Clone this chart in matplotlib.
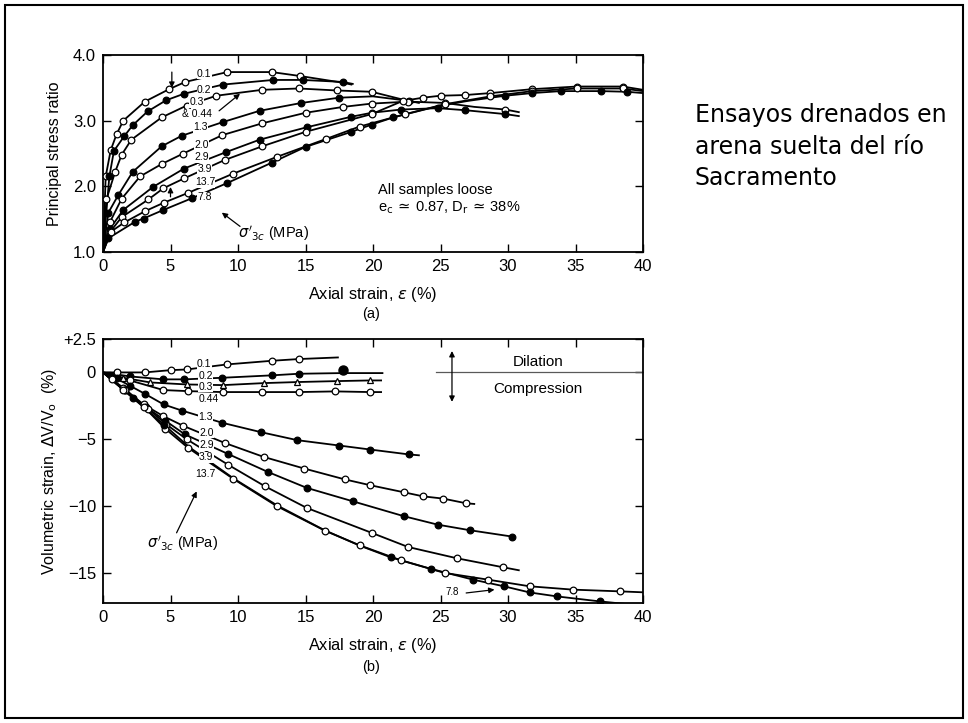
import numpy as np
import matplotlib
matplotlib.use("Agg")
import matplotlib.pyplot as plt
from matplotlib.patches import Rectangle

plt.rcParams['font.family'] = ['Liberation Sans', 'DejaVu Sans']
plt.rcParams['mathtext.fontset'] = 'dejavusans'

# ---- (a) principal stress ratio vs axial strain ----
t_eps_01 = [0, 0.2, 0.57, 1.0, 1.5, 3.1, 4.9, 6.1, 9.2, 12.5, 14.6, 17.7, 18.4]
t_r_01 = [1.0, 2.15, 2.55, 2.79, 3.0, 3.29, 3.48, 3.59, 3.74, 3.74, 3.68, 3.58, 3.55]
t_eps_02 = [0, 0.47, 0.81, 1.56, 2.2, 3.3, 4.67, 6.0, 8.9, 12.6, 14.8, 17.75, 18.5]
t_r_02 = [1.0, 2.15, 2.54, 2.76, 2.93, 3.14, 3.31, 3.41, 3.55, 3.62, 3.62, 3.59, 3.56]
t_eps_03 = [0, 0.25, 0.9, 1.38, 2.1, 4.35, 6.2, 8.4, 11.8, 14.5, 17.3, 19.9, 23.0]
t_r_03 = [1.0, 1.8, 2.22, 2.48, 2.71, 3.05, 3.23, 3.38, 3.47, 3.49, 3.46, 3.44, 3.28]
t_eps_13 = [0, 0.4, 1.14, 2.2, 4.35, 5.83, 8.9, 11.6, 14.7, 17.5, 20.0, 22.7, 23.4]
t_r_13 = [1.0, 1.6, 1.87, 2.22, 2.61, 2.77, 2.98, 3.15, 3.27, 3.35, 3.37, 3.3, 3.27]
t_eps_20 = [0, 0.5, 1.38, 2.74, 4.35, 5.95, 8.84, 11.8, 15.0, 17.8, 19.9, 22.6, 25.3, 27.5, 29.8, 30.8]
t_r_20 = [1.0, 1.45, 1.81, 2.15, 2.34, 2.5, 2.78, 2.96, 3.12, 3.21, 3.26, 3.29, 3.27, 3.21, 3.17, 3.13]
t_eps_29 = [0, 0.5, 1.5, 3.7, 6.0, 9.1, 11.6, 15.1, 18.4, 19.9, 22.1, 24.8, 26.8, 29.8, 30.8]
t_r_29 = [1.0, 1.35, 1.64, 1.99, 2.27, 2.52, 2.71, 2.9, 3.06, 3.12, 3.17, 3.19, 3.16, 3.10, 3.07]
t_eps_39 = [0, 0.5, 1.38, 3.36, 4.47, 6.0, 9.0, 11.8, 15.0, 19.9, 22.2, 23.7, 25.0, 26.8, 28.7, 31.8, 35.1, 38.5, 40]
t_r_39 = [1.0, 1.3, 1.53, 1.8, 1.97, 2.12, 2.4, 2.61, 2.83, 3.1, 3.3, 3.35, 3.38, 3.39, 3.42, 3.48, 3.52, 3.52, 3.47]
t_eps_137 = [0, 0.59, 1.58, 3.1, 4.5, 6.3, 9.6, 12.9, 16.5, 19.0, 22.4, 25.3, 28.7, 31.8, 35.1, 38.5, 40]
t_r_137 = [1.0, 1.31, 1.45, 1.62, 1.75, 1.9, 2.19, 2.45, 2.72, 2.91, 3.1, 3.25, 3.37, 3.45, 3.49, 3.49, 3.45]
t_eps_78 = [0, 0.4, 2.37, 3.0, 4.47, 6.6, 9.2, 12.5, 15.0, 18.4, 19.9, 21.5, 24.8, 27.0, 29.8, 31.8, 33.9, 36.9, 38.8, 40]
t_r_78 = [1.0, 1.21, 1.46, 1.51, 1.64, 1.82, 2.05, 2.36, 2.6, 2.83, 2.94, 3.05, 3.22, 3.3, 3.38, 3.42, 3.45, 3.45, 3.44, 3.42]

# (x, y, filled, indices without marker)
top_curves = [
    (t_eps_01, t_r_01, False, [0, 11, 12]),
    (t_eps_02, t_r_02, True, [0, 12]),
    (t_eps_03, t_r_03, False, [0, 12]),
    (t_eps_13, t_r_13, True, [0, 10, 12]),
    (t_eps_20, t_r_20, False, [0, 13, 15]),
    (t_eps_29, t_r_29, True, [0, 14]),
    (t_eps_39, t_r_39, False, [0, 18]),
    (t_eps_137, t_r_137, False, [0, 16]),
    (t_eps_78, t_r_78, True, [0, 12, 13, 19]),
]
top_labels = ['0.1', '0.2', '0.3', '& 0.44', '1.3', '2.0', '2.9', '3.9', '13.7', '7.8']
top_lab_x = [7.5, 7.5, 6.95, 6.95, 7.2, 7.3, 7.3, 7.55, 7.55, 7.55]
top_lab_y = [3.71, 3.47, 3.28, 3.10, 2.9, 2.63, 2.44, 2.26, 2.06, 1.84]

# ---- (b) volumetric strain vs axial strain ----
b_eps_01 = [0, 1.0, 3.1, 5.0, 6.2, 9.2, 12.5, 14.5, 17.4]
b_v_01 = [0, 0.0, 0.0, 0.17, 0.22, 0.6, 0.87, 1.0, 1.12]
b_eps_02 = [0, 2.0, 4.47, 6.0, 8.84, 12.5, 14.5, 17.7, 20.7]
b_v_02 = [0, -0.3, -0.52, -0.52, -0.4, -0.22, -0.1, -0.05, -0.05]
b_eps_03 = [0, 1.5, 3.5, 6.2, 8.9, 11.9, 14.4, 17.3, 19.8, 20.6]
b_v_03 = [0, -0.4, -0.75, -0.9, -0.95, -0.8, -0.72, -0.65, -0.6, -0.6]
b_eps_044 = [0, 2.0, 4.47, 6.3, 8.87, 11.8, 14.5, 17.2, 19.8, 20.6]
b_v_044 = [0, -0.6, -1.32, -1.4, -1.47, -1.47, -1.47, -1.42, -1.47, -1.47]
b_eps_13 = [0, 1.0, 2.0, 3.1, 4.5, 5.83, 8.84, 11.7, 14.4, 17.5, 19.8, 22.7, 23.4]
b_v_13 = [0, -0.45, -1.0, -1.6, -2.4, -2.85, -3.77, -4.47, -5.07, -5.47, -5.77, -6.14, -6.2]
b_eps_20 = [0, 0.64, 1.5, 3.0, 4.47, 5.95, 9.0, 11.9, 14.9, 17.9, 19.8, 22.3, 23.7, 25.2, 26.9, 27.5]
b_v_20 = [0, -0.5, -1.15, -2.4, -3.27, -4.0, -5.27, -6.32, -7.19, -8.0, -8.44, -8.97, -9.27, -9.44, -9.79, -9.84]
b_eps_29 = [0, 1.6, 3.2, 4.6, 6.07, 9.24, 12.2, 15.1, 18.5, 22.3, 24.8, 27.2, 30.3]
b_v_29 = [0, -1.35, -2.6, -3.6, -4.64, -6.09, -7.44, -8.64, -9.64, -10.76, -11.39, -11.81, -12.28]
b_eps_39 = [0, 1.6, 3.36, 4.7, 6.2, 9.24, 12.0, 15.1, 19.9, 22.6, 26.2, 29.65, 30.8]
b_v_39 = [0, -1.3, -2.75, -3.9, -5.0, -6.89, -8.52, -10.14, -12.0, -13.06, -13.9, -14.58, -14.8]
b_eps_137 = [0, 1.5, 3.0, 4.6, 6.3, 9.66, 12.87, 16.44, 19.0, 22.05, 25.3, 28.5, 31.6, 34.8, 38.3, 40]
b_v_137 = [0, -1.3, -2.55, -4.2, -5.64, -7.97, -10.0, -11.84, -12.93, -14.05, -15.0, -15.5, -16.0, -16.25, -16.38, -16.45]
b_eps_78 = [0, 2.2, 4.5, 6.4, 9.7, 12.9, 16.4, 19.0, 21.3, 24.3, 27.4, 29.7, 31.6, 33.65, 36.8, 39.5]
b_v_78 = [0, -1.9, -3.9, -5.6, -7.95, -9.95, -11.8, -12.95, -13.83, -14.7, -15.5, -16.0, -16.46, -16.76, -17.13, -17.4]
b_out_eps = [17.8]
b_out_v = [0.15]

bot_curves = [
    (b_eps_01, b_v_01, False, 'o', [0, 8]),
    (b_eps_02, b_v_02, True, 'o', [0, 7, 8]),
    (b_eps_03, b_v_03, False, '^', [0, 9]),
    (b_eps_044, b_v_044, False, 'o', [0, 9]),
    (b_eps_13, b_v_13, True, 'o', [0, 12]),
    (b_eps_20, b_v_20, False, 'o', [0, 15]),
    (b_eps_29, b_v_29, True, 'o', [0]),
    (b_eps_39, b_v_39, False, 'o', [0, 12]),
    (b_eps_137, b_v_137, False, 'o', [0, 15]),
    (b_eps_78, b_v_78, True, 'o', [0, 3, 4, 5, 6, 7, 15]),
]
bot_labels = ['0.1', '0.2', '0.3', '0.44', '1.3', '2.0', '2.9', '3.9', '13.7']
bot_lab_x = [7.5, 7.6, 7.6, 7.8, 7.6, 7.65, 7.65, 7.65, 7.6]
bot_lab_y = [0.6, -0.25, -1.1, -2.0, -3.3, -4.5, -5.45, -6.35, -7.6]


def draw(ax, x, y, filled, nomark, marker='o'):
    ax.plot(x, y, color='k', lw=1.3, zorder=2)
    idx = [i for i in range(len(x)) if i not in nomark]
    ms = 4.8 if marker == 'o' else 4.4
    ax.plot([x[i] for i in idx], [y[i] for i in idx], ls='none', marker=marker,
            ms=ms, mec='k', mfc='k' if filled else 'w', mew=0.9, zorder=3)


def style(ax):
    ax.tick_params(direction='in', top=True, right=True, length=6, width=1,
                   labelsize=12, pad=5)
    for s in ax.spines.values():
        s.set_linewidth(1.3)
    ax.set_xlim(0, 40)
    ax.set_xticks(range(0, 41, 5))


fig = plt.figure(figsize=(9.68, 7.23), dpi=100)
ax1 = fig.add_axes([103 / 968, 1 - 252 / 723, 540 / 968, 197 / 723])
ax2 = fig.add_axes([103 / 968, 1 - 603 / 723, 540 / 968, 264 / 723])

lab_box = dict(facecolor='white', edgecolor='none', pad=0.2)
arrow = dict(arrowstyle='-|>', color='k', lw=0.9, mutation_scale=8, shrinkA=0, shrinkB=0)

# (a)
for x, y, f, nm in top_curves:
    draw(ax1, x, y, f, nm)
for t, lx, ly in zip(top_labels, top_lab_x, top_lab_y):
    ax1.text(lx, ly, t, fontsize=7.5, ha='center', va='center', bbox=lab_box, zorder=4)
ax1.annotate('', xy=(5.1, 3.5), xytext=(5.1, 3.74), arrowprops=arrow)
ax1.annotate('', xy=(10.15, 3.41), xytext=(8.6, 3.15), arrowprops=arrow)
ax1.annotate('', xy=(5.0, 1.99), xytext=(5.0, 1.84), arrowprops=arrow)
ax1.annotate('', xy=(8.8, 1.6), xytext=(10.15, 1.39), arrowprops=arrow)
ax1.text(12.6, 1.28, r"$\sigma'_{3c}$ (MPa)", fontsize=10.5, ha='center', va='center')
ax1.text(20.4, 1.94, 'All samples loose', fontsize=10.5, ha='left', va='center')
ax1.text(20.4, 1.67, r'e$_\mathrm{c}\,{\simeq}\,$0.87, D$_\mathrm{r}\,{\simeq}\,$38%',
         fontsize=10.5, ha='left', va='center')
style(ax1)
ax1.set_ylim(1.0, 4.0)
ax1.set_yticks([1, 2, 3, 4])
ax1.set_yticklabels(['1.0', '2.0', '3.0', '4.0'])
ax1.set_xlabel(r'Axial strain, $\epsilon$ (%)', fontsize=11.8, labelpad=8)
ax1.set_ylabel('Principal stress ratio', fontsize=11.5, labelpad=8)

# (b)
for x, y, f, mk, nm in bot_curves:
    draw(ax2, x, y, f, nm, mk)
ax2.plot(b_out_eps, b_out_v, ls='none', marker='o', ms=6.5, color='k', zorder=3)
for t, lx, ly in zip(bot_labels, bot_lab_x, bot_lab_y):
    ax2.text(lx, ly, t, fontsize=7.5, ha='center', va='center', bbox=lab_box, zorder=4)
ax2.annotate('', xy=(6.94, -8.9), xytext=(5.45, -12.0), arrowprops=arrow)
ax2.text(5.9, -12.75, r"$\sigma'_{3c}$ (MPa)", fontsize=10.5, ha='center', va='center')
ax2.text(25.9, -16.4, '7.8', fontsize=7, ha='center', va='center')
ax2.annotate('', xy=(29.0, -16.25), xytext=(26.9, -16.5), arrowprops=arrow)
ax2.plot([24.7, 40], [0, 0], color='0.35', lw=0.9)
ax2.annotate('', xy=(25.85, 1.6), xytext=(25.85, -2.2),
             arrowprops=dict(arrowstyle='<|-|>', color='k', lw=0.9, mutation_scale=8,
                             shrinkA=0, shrinkB=0))
ax2.text(32.2, 0.75, 'Dilation', fontsize=11, ha='center', va='center')
ax2.text(32.2, -1.25, 'Compression', fontsize=11, ha='center', va='center')
style(ax2)
ax2.set_ylim(-17.25, 2.5)
ax2.set_yticks([2.5, 0, -5, -10, -15])
ax2.set_yticklabels(['+2.5', '0', '\u22125', '\u221210', '\u221215'])
ax2.set_xlabel(r'Axial strain, $\epsilon$ (%)', fontsize=11.8, labelpad=8)
ax2.set_ylabel(r'Volumetric strain, $\Delta$V/V$_\mathrm{o}$  (%)', fontsize=11.5, labelpad=3)

fig.text(371 / 968, 1 - 314 / 723, '(a)', fontsize=10.5, ha='center', va='center')
fig.text(371 / 968, 1 - 667 / 723, '(b)', fontsize=10.5, ha='center', va='center')

fig.text(695 / 968, 1 - 103 / 723, 'Ensayos drenados en\narena suelta del r\u00edo\nSacramento',
         fontsize=17, family='DejaVu Sans', ha='left', va='top', linespacing=1.4)

fig.patches.append(Rectangle((5 / 968, 5 / 723), 958 / 968, 713 / 723, transform=fig.transFigure,
                             fill=False, edgecolor='k', lw=1.5))

fig.savefig('out.png', dpi=100)
